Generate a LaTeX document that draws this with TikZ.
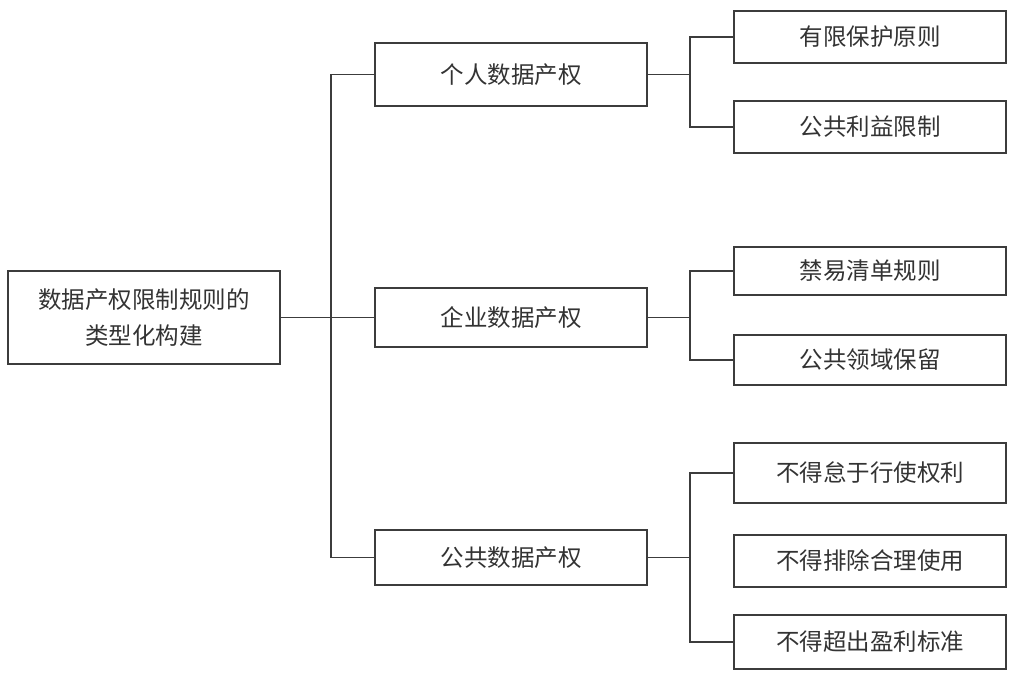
\documentclass[tikz,border=0pt]{standalone}
\usepackage{fontspec}
\setmainfont{Noto Sans CJK SC}
\begin{document}
\begin{tikzpicture}[x=1pt,y=-1pt,
  box/.style={draw=linegray, line width=1.6pt, minimum width=272pt, inner sep=0pt, align=center, text=textgray, font=\fontsize{23.5}{36}\selectfont},
  conn/.style={draw=linegray, line width=1.6pt}]
\definecolor{linegray}{HTML}{3C3C3C}
\definecolor{textgray}{HTML}{333333}
\useasboundingbox (0,0) rectangle (1017,676);
% root
\node[box, minimum height=93pt] (root) at (144,317.5) {数据产权限制规则的\\类型化构建};
% middle
\node[box, minimum height=63pt] (m1) at (511,74.5) {个人数据产权};
\node[box, minimum height=59pt] (m2) at (511,317.5) {企业数据产权};
\node[box, minimum height=55pt] (m3) at (511,557.5) {公共数据产权};
% right
\node[box, minimum height=52pt] (r1) at (870,37) {有限保护原则};
\node[box, minimum height=52pt] (r2) at (870,127) {公共利益限制};
\node[box, minimum height=48pt] (r3) at (870,271) {禁易清单规则};
\node[box, minimum height=50pt] (r4) at (870,360) {公共领域保留};
\node[box, minimum height=60pt] (r5) at (870,473) {不得怠于行使权利};
\node[box, minimum height=52pt] (r6) at (870,561) {不得排除合理使用};
\node[box, minimum height=54pt] (r7) at (870,642) {不得超出盈利标准};
\coordinate (bx) at (691,0);
% connectors
\draw[conn] (root.east) -- (m2.west);
\draw[conn] (m1.west) -- ++(-43,0) |- (m3.west);
\draw[conn] (m1.east) -- (m1.east -| bx);
\draw[conn] (m2.east) -- (m2.east -| bx);
\draw[conn] (m3.east) -- (m3.east -| bx);
\draw[conn] (r1.west) -- ++(-43,0) |- (r2.west);
\draw[conn] (r3.west) -- ++(-43,0) |- (r4.west);
\draw[conn] (r5.west) -- ++(-43,0) |- (r7.west);
\end{tikzpicture}
\end{document}
